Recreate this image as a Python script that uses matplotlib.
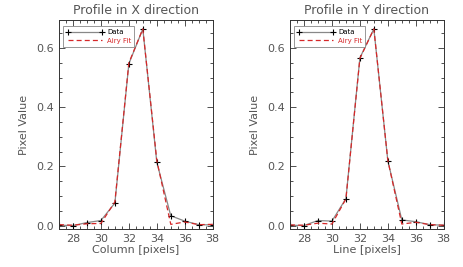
import numpy as np
import matplotlib.pyplot as plt
from matplotlib.ticker import MultipleLocator

pix = [27, 28, 29, 30, 31, 32, 33, 34, 35, 36, 37, 38]
x_data = [0.001, 0.0, 0.010, 0.017, 0.076, 0.547, 0.665, 0.214, 0.033, 0.015, 0.003, 0.002]
x_fit = [0.003, 0.001, 0.006, 0.007, 0.080, 0.550, 0.665, 0.220, 0.004, 0.012, 0.003, 0.004]
y_data = [0.001, 0.0, 0.017, 0.015, 0.091, 0.567, 0.665, 0.219, 0.019, 0.013, 0.003, 0.001]
y_fit = [0.002, 0.001, 0.008, 0.005, 0.090, 0.565, 0.665, 0.220, 0.005, 0.011, 0.003, 0.001]

titles = ['Profile in X direction', 'Profile in Y direction']
xlabels = ['Column [pixels]', 'Line [pixels]']

fig = plt.figure(figsize=(4.63, 2.67), dpi=100)
grey = '#555555'
plt.rcParams['font.family'] = 'DejaVu Sans'

for i, (d, f) in enumerate([(x_data, x_fit), (y_data, y_fit)]):
    left = 0.1274 if i == 0 else 0.6264
    ax = fig.add_axes([left, 0.142, 0.332, 0.783])
    ax.plot(pix, d, color='#888888', lw=0.9, marker='+', ms=5, mec='black', mew=0.8, label='Data')
    ax.plot(pix, f, color='#d62728', lw=0.9, ls=(0, (4, 2.5)), label='Airy Fit')
    ax.set_xlim(27, 38)
    ax.set_ylim(-0.012, 0.695)
    ax.xaxis.set_major_locator(MultipleLocator(2))
    ax.xaxis.set_minor_locator(MultipleLocator(0.5))
    ax.yaxis.set_major_locator(MultipleLocator(0.2))
    ax.yaxis.set_minor_locator(MultipleLocator(0.05))
    ax.yaxis.set_major_formatter(plt.FormatStrFormatter('%.1f'))
    ax.tick_params(which='both', direction='in', top=True, right=True, colors='#333333',
                   labelcolor=grey, labelsize=8)
    ax.tick_params(which='major', length=4, width=0.6)
    ax.tick_params(which='minor', length=2, width=0.6)
    for s in ax.spines.values():
        s.set_color('#333333')
        s.set_linewidth(0.7)
    ax.set_title(titles[i], fontsize=9, color=grey, pad=4)
    ax.set_xlabel(xlabels[i], fontsize=8, color=grey, labelpad=1)
    ax.set_ylabel('Pixel Value', fontsize=8, color=grey, labelpad=5)
    leg = ax.legend(loc='upper left', fontsize=5, frameon=True, fancybox=False,
                    edgecolor='#888888', framealpha=1, handlelength=5.5, borderpad=0.4,
                    labelspacing=0.4, borderaxespad=0, bbox_to_anchor=(0.025, 0.97),
                    numpoints=2, handletextpad=0.5)
    leg.get_frame().set_linewidth(0.6)
    leg.get_texts()[1].set_color('#d62728')

plt.savefig('out.png', dpi=100)
